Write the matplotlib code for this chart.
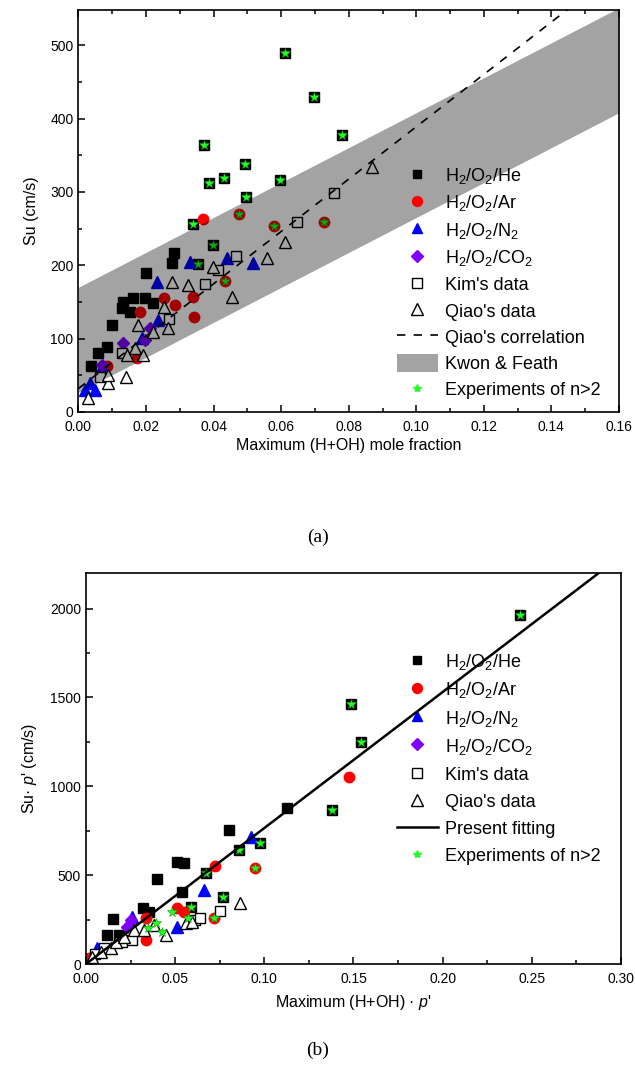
import matplotlib
matplotlib.use("Agg")
import matplotlib.pyplot as plt
from matplotlib.ticker import MultipleLocator
from matplotlib.lines import Line2D
from matplotlib.patches import Patch

plt.rcParams['font.family'] = 'Liberation Sans'
plt.rcParams['mathtext.fontset'] = 'custom'
plt.rcParams['mathtext.rm'] = 'Liberation Sans'
plt.rcParams['mathtext.it'] = 'Liberation Sans:italic'

# ---- panel (a): Su vs maximum (H+OH) mole fraction ----
he_a_x = [0.0037, 0.0058, 0.0084, 0.0099, 0.0129, 0.0132, 0.0153, 0.0162, 0.0197, 0.0221,
          0.0200, 0.0277, 0.0283, 0.0340, 0.0354, 0.0399, 0.0372, 0.0387, 0.0431, 0.0493,
          0.0496, 0.0597, 0.0612, 0.0698, 0.0780]
he_a_y = [63, 80, 89, 119, 142, 150, 136, 156, 156, 149,
          190, 203, 217, 256, 202, 227, 364, 312, 319, 338,
          293, 316, 490, 430, 377]
ar_a_x = [0.0084, 0.0173, 0.0182, 0.0253, 0.0286, 0.0339, 0.0342, 0.0369, 0.0434, 0.0476, 0.0579, 0.0727]
ar_a_y = [63, 74, 136, 156, 146, 157, 130, 263, 179, 270, 254, 259]
n2_a_x = [0.0020, 0.0034, 0.0049, 0.0070, 0.0188, 0.0232, 0.0236, 0.0330, 0.0440, 0.0517]
n2_a_y = [30, 40, 30, 61, 101, 177, 125, 205, 210, 203]
co2_a_x = [0.0070, 0.0132, 0.0197, 0.0212]
co2_a_y = [64, 94, 98, 115]
kim_a_x = [0.0064, 0.0129, 0.0268, 0.0375, 0.0413, 0.0467, 0.0647, 0.0757]
kim_a_y = [48, 80, 127, 175, 194, 213, 259, 299]
qiao_a_x = [0.0028, 0.0088, 0.0088, 0.0141, 0.0144, 0.0167, 0.0191, 0.0176, 0.0221, 0.0265,
            0.0253, 0.0277, 0.0324, 0.0399, 0.0455, 0.0558, 0.0612, 0.0870]
qiao_a_y = [19, 40, 50, 48, 78, 87, 78, 119, 109, 115,
            143, 177, 173, 198, 157, 210, 232, 334]
exp_a_x = [0.0340, 0.0354, 0.0399, 0.0372, 0.0387, 0.0431, 0.0493, 0.0496, 0.0597, 0.0612,
           0.0698, 0.0780, 0.0434, 0.0476, 0.0579, 0.0727]
exp_a_y = [256, 202, 227, 364, 312, 319, 338, 293, 316, 490,
           430, 377, 179, 270, 254, 259]
# Qiao's correlation and Kwon & Faeth band (end points)
qiao_corr_x = [0.0, 0.16]
qiao_corr_y = [32, 603]
kwon_x = [0.0, 0.16]
kwon_lo = [27, 408]
kwon_hi = [170, 551]

# ---- panel (b): Su*p' vs maximum (H+OH)*p' ----
he_b_x = [0.0118, 0.0151, 0.0185, 0.0320, 0.0353, 0.0398, 0.0510, 0.0550, 0.0538, 0.0802,
          0.1127, 0.0589, 0.0673, 0.0768, 0.0858, 0.0976, 0.1380, 0.1486, 0.1542, 0.2434]
he_b_y = [163, 253, 163, 315, 292, 478, 573, 567, 404, 753,
          876, 320, 511, 376, 640, 680, 865, 1461, 1247, 1961]
ar_b_x = [0.0017, 0.0336, 0.0336, 0.0510, 0.0550, 0.0723, 0.1475, 0.0718, 0.0948]
ar_b_y = [34, 258, 135, 315, 292, 551, 1051, 258, 539]
n2_b_x = [0.0062, 0.0258, 0.0510, 0.0662, 0.0925]
n2_b_y = [90, 264, 208, 416, 714]
co2_b_x = [0.0230, 0.0252]
co2_b_y = [208, 247]
kim_b_x = [0.0050, 0.0101, 0.0202, 0.0258, 0.0611, 0.0639, 0.0752]
kim_b_y = [55, 90, 124, 135, 247, 258, 298]
qiao_b_x = [0.0034, 0.0084, 0.0140, 0.0168, 0.0213, 0.0269, 0.0325, 0.0381, 0.0449, 0.0561,
            0.0595, 0.0864]
qiao_b_y = [39, 67, 90, 124, 152, 191, 191, 219, 163, 230,
            236, 342]
exp_b_x = [0.0348, 0.0393, 0.0426, 0.0482, 0.0572, 0.0589, 0.0673, 0.0718, 0.0768, 0.0858,
           0.0948, 0.0976, 0.1380, 0.1486, 0.1542, 0.2434]
exp_b_y = [202, 230, 180, 292, 258, 320, 511, 258, 376, 640,
           539, 680, 865, 1461, 1247, 1961]
fit_x = [0.0, 0.30]
fit_y = [0, 2295]

labels_a = ['H$_2$/O$_2$/He', 'H$_2$/O$_2$/Ar', 'H$_2$/O$_2$/N$_2$', 'H$_2$/O$_2$/CO$_2$',
            "Kim's data", "Qiao's data", "Qiao's correlation", 'Kwon & Feath',
            'Experiments of n>2']
labels_b = ['H$_2$/O$_2$/He', 'H$_2$/O$_2$/Ar', 'H$_2$/O$_2$/N$_2$', 'H$_2$/O$_2$/CO$_2$',
            "Kim's data", "Qiao's data", 'Present fitting', 'Experiments of n>2']

HE = dict(marker='s', ms=6.5, mfc='black', mec='black')
AR = dict(marker='o', ms=7.5, mfc='#ff0000', mec='#ff0000')
N2 = dict(marker='^', ms=8, mfc='#0000ff', mec='#0000ff')
CO2 = dict(marker='D', ms=6.5, mfc='#8000ff', mec='#8000ff')
KIM = dict(marker='s', ms=7, mfc='white', mec='black', mew=1.0)
QIAO = dict(marker='^', ms=8.5, mfc='white', mec='black', mew=1.0)
EXP = dict(marker='*', ms=7.5, mfc='#22ff22', mec='#119911', mew=0.4)


def draw_points(ax, data):
    for (x, y), st in zip(data, [HE, AR, N2, CO2, KIM, QIAO, EXP]):
        ax.plot(x, y, ls='none', **st)


def style_axes(ax, top_ticks):
    for s in ax.spines.values():
        s.set_linewidth(1.2)
    ax.tick_params(which='both', direction='in', top=top_ticks, right=False,
                   labelsize=10, width=1.1)
    ax.tick_params(which='major', length=5)
    ax.tick_params(which='minor', length=3)
    ax.tick_params(axis='x', pad=6)


def point_handles():
    return [Line2D([], [], ls='none', **{**st, 'ms': st['ms'] * 0.95})
            for st in [HE, AR, N2, CO2, KIM, QIAO]]


fig = plt.figure(figsize=(6.35, 10.74), dpi=100)

# (a)
ax1 = fig.add_axes([0.1236, 0.6164, 0.8512, 0.3743])
draw_points(ax1, [(he_a_x, he_a_y), (ar_a_x, ar_a_y), (n2_a_x, n2_a_y), (co2_a_x, co2_a_y),
                  (kim_a_x, kim_a_y), (qiao_a_x, qiao_a_y), (exp_a_x, exp_a_y)])
# band drawn over the points, darkening them like the original
ax1.fill_between(kwon_x, kwon_lo, kwon_hi, color='black', alpha=0.36, lw=0, zorder=5)
ax1.plot(qiao_corr_x, qiao_corr_y, color='black', lw=1.2, ls=(0, (5, 5)), zorder=6)
ax1.set_xlim(0, 0.16)
ax1.set_ylim(0, 548)
ax1.xaxis.set_major_locator(MultipleLocator(0.02))
ax1.xaxis.set_minor_locator(MultipleLocator(0.01))
ax1.yaxis.set_major_locator(MultipleLocator(100))
ax1.yaxis.set_minor_locator(MultipleLocator(50))
ax1.xaxis.set_major_formatter(lambda v, p: f'{v:.2f}')
style_axes(ax1, True)
ax1.set_xlabel('Maximum (H+OH) mole fraction', fontsize=11.5, labelpad=3)
ax1.set_ylabel('Su (cm/s)', fontsize=11.5, labelpad=8)

h1 = point_handles() + [
    Line2D([], [], color='black', lw=1.2, ls=(0, (5, 5))),
    Patch(facecolor='black', alpha=0.36, lw=0),
    Line2D([], [], ls='none', marker='*', ms=6, mfc='#22ff22', mec='#22ff22'),
]
ax1.legend(h1, labels_a, loc='upper left', bbox_to_anchor=(0.589, 0.612), frameon=False,
           fontsize=13, handlelength=2.27, handleheight=1.1, handletextpad=0.4,
           labelspacing=0.41, borderpad=0, borderaxespad=0)

# (b)
ax2 = fig.add_axes([0.1354, 0.1024, 0.8425, 0.3641])
draw_points(ax2, [(he_b_x, he_b_y), (ar_b_x, ar_b_y), (n2_b_x, n2_b_y), (co2_b_x, co2_b_y),
                  (kim_b_x, kim_b_y), (qiao_b_x, qiao_b_y), (exp_b_x, exp_b_y)])
ax2.plot(fit_x, fit_y, color='black', lw=1.8, zorder=6)
ax2.set_xlim(0, 0.30)
ax2.set_ylim(0, 2200)
ax2.xaxis.set_major_locator(MultipleLocator(0.05))
ax2.xaxis.set_minor_locator(MultipleLocator(0.025))
ax2.yaxis.set_major_locator(MultipleLocator(500))
ax2.yaxis.set_minor_locator(MultipleLocator(250))
ax2.xaxis.set_major_formatter(lambda v, p: f'{v:.2f}')
style_axes(ax2, False)
ax2.set_xlabel("Maximum (H+OH) · $p$'", fontsize=11.5, labelpad=5)
ax2.set_ylabel("Su· $p$' (cm/s)", fontsize=11.5, labelpad=8)

h2 = point_handles() + [
    Line2D([], [], color='black', lw=1.8),
    Line2D([], [], ls='none', marker='*', ms=6, mfc='#22ff22', mec='#22ff22'),
]
ax2.legend(h2, labels_b, loc='upper left', bbox_to_anchor=(0.581, 0.798), frameon=False,
           fontsize=13, handlelength=2.27, handleheight=1.1, handletextpad=0.4,
           labelspacing=0.46, borderpad=0, borderaxespad=0)

fig.text(0.5, 1 - 537 / 1074, '(a)', ha='center', va='center',
         family='Liberation Serif', fontsize=14)
fig.text(0.5, 1 - 1050 / 1074, '(b)', ha='center', va='center',
         family='Liberation Serif', fontsize=14)

fig.savefig('out.png', dpi=100)
